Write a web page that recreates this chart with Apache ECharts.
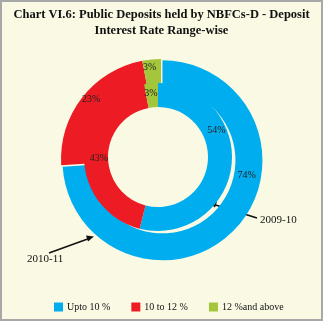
<!DOCTYPE html>
<html>
<head>
<meta charset="utf-8">
<script src="https://cdn.jsdelivr.net/npm/echarts@6/dist/echarts.min.js"></script>
<style>
html,body{margin:0;padding:0;background:#f9f9e4;}
#wrap{position:relative;width:323px;height:321px;}
#chart{width:323px;height:321px;}
#frame{position:absolute;left:0;top:0;width:323px;height:321px;box-sizing:border-box;border:2px solid #a8a8a8;pointer-events:none;}
</style>
</head>
<body>
<div id="wrap"><div id="chart"></div><div id="frame"></div></div>
<script>
// ---- data ----
const titleText = 'Chart VI.6: Public Deposits held by NBFCs-D - Deposit\nInterest Rate Range-wise';
const categories = ['Upto 10 %', '10 to 12 %', '12 %and above'];
const values2010_11 = [74, 23, 3];   // outer ring
const values2009_10 = [54, 43, 3];   // inner ring
const ringNames = ['2010-11', '2009-10'];

// ---- styles ----
const colors = ['#00aeef', '#ed1c24', '#a3c63a'];
const outerLabelOffsets = [[19, -46], [1, -5], [-3, -3]];
const innerLabelOffsets = [[-6, -35], [6, 3], [-1, 1]];
const serif = '"Liberation Serif", "Times New Roman", serif';

function build(vals, offsets, explodeFirst) {
  return vals.map((v, i) => ({
    name: categories[i],
    value: v,
    selected: explodeFirst && i === 0,
    itemStyle: { color: colors[i] },
    label: { offset: offsets[i] },
    select: { label: { offset: offsets[i] } }
  }));
}

const chart = echarts.init(document.getElementById('chart'), null, { renderer: 'canvas' });
const labelStyle = {
  show: true, position: 'inside', formatter: '{c}%',
  color: '#222', fontSize: 10, fontFamily: serif
};
chart.setOption({
  backgroundColor: '#f9f9e4',
  animation: false,
  title: {
    text: titleText, left: 'center', top: 2,
    textStyle: { fontFamily: serif, fontWeight: 'bold', fontSize: 12.5, color: '#111', lineHeight: 16 }
  },
  legend: {
    data: categories, left: 49, top: 297, icon: 'rect',
    itemWidth: 9, itemHeight: 9, itemGap: 21,
    textStyle: { fontFamily: serif, fontSize: 10, color: '#111', padding: [0, 0, 0, -1] },
    selectedMode: false
  },
  series: [
    {
      name: ringNames[0], type: 'pie', center: [161, 159], radius: [73, 100],
      startAngle: 90, clockwise: true, selectedMode: 'single', selectedOffset: 2,
      emphasis: { disabled: true }, silent: true,
      label: labelStyle, labelLine: { show: false },
      data: build(values2010_11, outerLabelOffsets, true)
    },
    {
      name: ringNames[1], type: 'pie', center: [158, 157], radius: [50, 74],
      startAngle: 90, clockwise: true, selectedMode: false,
      emphasis: { disabled: true }, silent: true,
      label: labelStyle, labelLine: { show: false },
      data: build(values2009_10, innerLabelOffsets, false)
    }
  ],
  graphic: [
    { type: 'line', shape: { x1: 257, y1: 218, x2: 214, y2: 204.5 }, style: { stroke: '#111', lineWidth: 1.5 } },
    { type: 'polygon', shape: { points: [[209, 203], [217, 201.5], [215, 207.5]] }, style: { fill: '#111' } },
    { type: 'text', left: 260, top: 215, style: { text: ringNames[1], font: '11px ' + serif, fill: '#111' } },
    { type: 'line', shape: { x1: 49, y1: 253, x2: 89, y2: 238.5 }, style: { stroke: '#111', lineWidth: 1.5 } },
    { type: 'polygon', shape: { points: [[94, 236.5], [86, 235.5], [88, 241.5]] }, style: { fill: '#111' } },
    { type: 'text', left: 27, top: 254, style: { text: ringNames[0], font: '11px ' + serif, fill: '#111' } }
  ]
});
</script>
</body>
</html>
